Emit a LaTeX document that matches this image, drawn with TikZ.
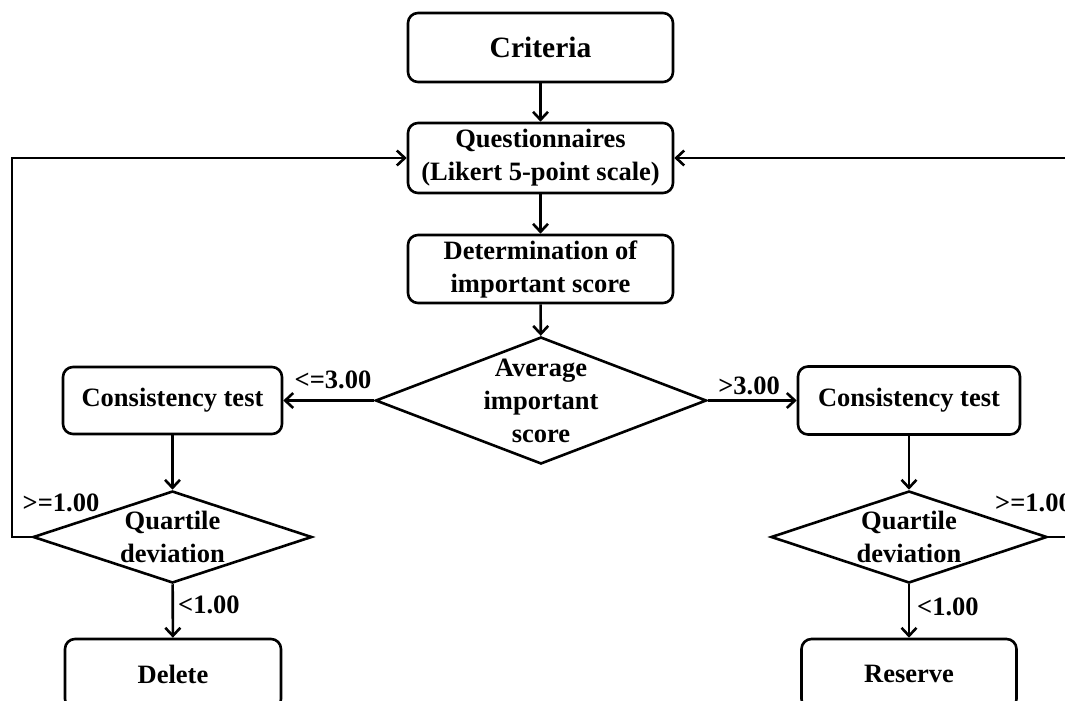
\documentclass[tikz,border=0pt]{standalone}
\usepackage{fontspec}
\setmainfont{Liberation Serif}
\usetikzlibrary{shapes.geometric,arrows.meta}

\tikzset{
  flow/.style={line width=2.6pt, -{Straight Barb[length=8pt,width=15pt]}},
  stepbox/.style={draw, line width=2.6pt, rounded corners=10pt, inner sep=0pt,
    align=center, font=\fontsize{26.5}{33}\selectfont\bfseries},
  decision/.style={draw, diamond, line width=2.6pt, inner sep=0pt},
  dtext/.style={align=center, inner sep=0pt, font=\fontsize{26.5}{33}\selectfont\bfseries},
  tag/.style={inner sep=0pt, font=\fontsize{26.5}{30}\selectfont\bfseries},
}

\begin{document}
\begin{tikzpicture}[x=1pt, y=-1pt]
  \useasboundingbox (0,0) rectangle (1065,701);
  \clip (0,0) rectangle (1065,701);

  % main column
  \node[stepbox, minimum width=265pt, minimum height=69pt,
        font=\fontsize{29.5}{33}\selectfont\bfseries] (crit) at (540.5,47.5) {Criteria};
  \node[stepbox, minimum width=265pt, minimum height=70pt] (quest) at (540.5,158)
       {Questionnaires\\(Likert 5-point scale)};
  \node[stepbox, minimum width=265pt, minimum height=68pt] (det) at (540.5,269)
       {Determination of\\important score};
  \node[decision, minimum width=331pt, minimum height=127pt] (avg) at (541,400.5) {};
  \node[dtext] at (avg) {Average\\important\\score};

  % left branch
  \node[stepbox, minimum width=219pt, minimum height=67pt] (consL) at (172.5,400.5) {Consistency test};
  \node[decision, minimum width=279pt, minimum height=92pt] (qdL) at (172.5,537) {};
  \node[dtext] at (qdL) {Quartile\\deviation};
  \node[stepbox, minimum width=216pt, minimum height=70pt] (del) at (173,674) {Delete};

  % right branch
  \node[stepbox, minimum width=222pt, minimum height=68pt] (consR) at (909,400.5) {Consistency test};
  \node[decision, minimum width=276pt, minimum height=92pt] (qdR) at (909,537) {};
  \node[dtext] at (qdR) {Quartile\\deviation};
  \node[stepbox, minimum width=215pt, minimum height=70pt] (res) at (909,674) {Reserve};

  % connectors down the column
  \draw[flow] (crit) -- (quest);
  \draw[flow] (quest) -- (det);
  \draw[flow] (det) -- (avg);
  \draw[flow] (avg.west) -- (consL.east);
  \draw[flow] (avg.east) -- (consR.west);
  \draw[flow] (consL) -- (qdL);
  \draw[flow] (consR) -- (qdR);
  \draw[flow] (qdL) -- (del);
  \draw[flow] (qdR) -- (res);

  % feedback loops to the questionnaire
  \coordinate (backL) at (12,537);
  \coordinate (backR) at (1085,537);
  \draw[flow] (qdL.west) -- (backL) |- (quest.west);
  \draw[flow] (qdR.east) -- (backR) |- (quest.east);

  % branch labels
  \node[tag] (lAvgL) at (333,380) {<=3.00};
  \node[tag] (lAvgR) at (749,386) {>3.00};
  \node[tag] (lQL) at (61,503) {>=1.00};
  \node[tag, anchor=west] (lQR) at (995,503) {>=1.00};
  \node[tag, anchor=west] (lDel) at (178,605) {<1.00};
  \node[tag, anchor=west] (lRes) at (917,607) {<1.00};
\end{tikzpicture}
\end{document}
